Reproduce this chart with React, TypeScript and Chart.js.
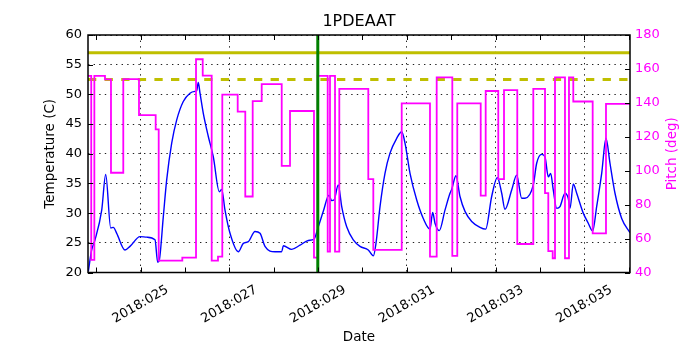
import React, { useEffect, useRef } from 'react';
import { Chart, registerables } from 'chart.js';

Chart.register(...registerables);

// ---- data ----
const tempDays = [
  23.824, 23.9, 23.975, 24.126, 24.216, 24.329, 24.387, 24.464, 24.651, 24.763,
  24.989, 25.14, 25.327, 25.388, 25.424, 25.514, 25.59, 25.703, 25.816, 25.964,
  26.115, 26.228, 26.266, 26.302, 26.341, 26.415, 26.528, 26.64, 26.776, 26.83,
  26.904, 27.017, 27.204, 27.316, 27.429, 27.58, 27.693, 27.805, 28.031, 28.182,
  28.218, 28.407, 28.594, 28.781, 28.909, 29.006, 29.119, 29.247, 29.308, 29.36,
  29.457, 29.534, 29.646, 29.795, 29.946, 30.133, 30.246, 30.306, 30.397, 30.509,
  30.622, 30.773, 30.886, 30.96, 31.073, 31.224, 31.372, 31.523, 31.584, 31.636,
  31.733, 31.861, 31.974, 32.012, 32.109, 32.199, 32.312, 32.463, 32.65, 32.778,
  32.913, 33.04, 33.139, 33.213, 33.364, 33.477, 33.589, 33.664, 33.851, 33.927,
  34.04, 34.114, 34.189, 34.243, 34.301, 34.378, 34.452, 34.565, 34.639, 34.678,
  34.752, 34.829, 34.977, 35.09, 35.189, 35.279, 35.392, 35.489, 35.579, 35.692,
  35.843, 36.03,
];
const tempValues = [
  20.2, 23.8, 25.5, 30.5, 36.5, 27.5, 27.6, 26.6, 23.8, 24.4,
  26.05, 25.95, 25.5, 21.7, 22.1, 29.4, 35.6, 41.8, 45.7, 48.8,
  50.2, 50.5, 50.6, 52.0, 50.2, 46.8, 42.9, 39.5, 33.6, 34.0,
  30.5, 26.6, 23.5, 24.9, 25.2, 26.9, 26.6, 24.4, 23.5, 23.5,
  24.5, 23.9, 24.6, 25.4, 25.6, 27.7, 30.3, 33.0, 32.1, 32.2,
  34.75, 31.1, 27.7, 25.5, 24.4, 23.8, 22.8, 24.9, 31.1, 36.7,
  40.1, 42.6, 43.7, 41.8, 36.7, 32.2, 29.1, 27.3, 30.1, 28.3,
  27.05, 30.5, 33.35, 34.0, 36.3, 32.8, 30.3, 28.6, 27.6, 27.3,
  32.8, 36.0, 33.35, 30.65, 33.9, 36.4, 32.5, 32.5, 34.75, 38.4,
  39.9, 39.5, 36.1, 36.7, 33.9, 30.8, 31.1, 33.35, 32.5, 30.8,
  34.9, 33.35, 30.0, 28.3, 27.0, 31.1, 36.7, 42.6, 38.4, 33.35,
  29.1, 26.7,
];

// pitch is a step series: each value holds until the next day entry
const pitchDays = [
  23.817, 23.89, 23.96, 24.2, 24.335, 24.612, 24.966, 25.342, 25.41, 25.942,
  26.251, 26.402, 26.604, 26.746, 26.843, 27.19, 27.361, 27.528, 27.731, 28.182,
  28.369, 28.909, 28.993, 29.218, 29.27, 29.383, 29.48, 30.133, 30.246, 30.886,
  31.523, 31.674, 32.026, 32.138, 32.666, 32.778, 33.062, 33.191, 33.49, 33.851,
  34.115, 34.189, 34.288, 34.34, 34.565, 34.655, 34.752, 35.189, 35.489, 36.03,
];
const pitchValues = [
  155.9, 47.4, 155.9, 153.8, 98.8, 154.0, 132.8, 124.4, 47.0, 48.8,
  165.7, 156.0, 47.0, 49.4, 144.8, 134.8, 84.8, 141.0, 151.0, 102.8,
  135.2, 48.8, 155.9, 52.3, 155.9, 52.3, 148.2, 95.1, 53.3, 139.7,
  49.4, 155.0, 49.8, 139.7, 85.3, 147.0, 95.1, 147.5, 56.8, 148.2,
  86.8, 52.6, 48.4, 155.0, 48.4, 155.0, 140.8, 63.1, 139.4, 139.4,
];

const xTickDays = [25, 27, 29, 31, 33, 35];
const xTickLabels = ['2018:025', '2018:027', '2018:029', '2018:031', '2018:033', '2018:035'];
const tempTicks = [20, 25, 30, 35, 40, 45, 50, 55, 60];
const pitchTicks = [40, 60, 80, 100, 120, 140, 160, 180];

const X_MIN = 23.817;
const X_MAX = 36.03;
const LIMIT_HIGH = 57;
const LIMIT_LOW = 52.5;
const MARKER_DAY = 28.995;

const FONT = '"DejaVu Sans", "Liberation Sans", sans-serif';
const TICK_LEN = 5;

const decorPlugin = {
  id: 'decor',
  afterDraw(chart: any) {
    const { ctx, chartArea: a, scales } = chart;
    const xs = scales.x;
    const ys = scales.y;
    const y2s = scales.y2;
    ctx.save();
    ctx.setLineDash([]);
    ctx.strokeStyle = '#000';
    ctx.lineWidth = 1;
    ctx.beginPath();
    for (let d = Math.ceil(X_MIN); d <= X_MAX; d++) {
      const px = Math.round(xs.getPixelForValue(d)) + 0.5;
      ctx.moveTo(px, a.bottom);
      ctx.lineTo(px, a.bottom - TICK_LEN);
      ctx.moveTo(px, a.top);
      ctx.lineTo(px, a.top + TICK_LEN);
    }
    for (const v of tempTicks) {
      const py = Math.round(ys.getPixelForValue(v)) + 0.5;
      ctx.moveTo(a.left, py);
      ctx.lineTo(a.left + TICK_LEN, py);
    }
    for (const v of pitchTicks) {
      const py = Math.round(y2s.getPixelForValue(v)) + 0.5;
      ctx.moveTo(a.right, py);
      ctx.lineTo(a.right - TICK_LEN, py);
    }
    ctx.stroke();

    ctx.lineWidth = 1.5;
    ctx.strokeRect(a.left, a.top, a.right - a.left, a.bottom - a.top);

    ctx.fillStyle = '#000';
    ctx.font = `13px ${FONT}`;
    ctx.textAlign = 'center';
    ctx.textBaseline = 'middle';
    xTickDays.forEach((d, i) => {
      ctx.save();
      ctx.translate(xs.getPixelForValue(d), a.bottom + 32);
      ctx.rotate(-Math.PI / 6);
      ctx.fillText(xTickLabels[i], 0, 0);
      ctx.restore();
    });

    ctx.save();
    ctx.fillStyle = '#ff00ff';
    ctx.font = `13.5px ${FONT}`;
    ctx.translate(a.right + 42, (a.top + a.bottom) / 2);
    ctx.rotate(-Math.PI / 2);
    ctx.fillText('Pitch (deg)', 0, 0);
    ctx.restore();

    ctx.restore();
  },
};

export default function App() {
  const canvasRef = useRef<HTMLCanvasElement | null>(null);

  useEffect(() => {
    const canvas = canvasRef.current;
    if (!canvas) return;

    const tempData = tempDays.map((d, i) => ({ x: d, y: tempValues[i] }));
    const pitchData = pitchDays.map((d, i) => ({ x: d, y: pitchValues[i] }));

    const chart = new Chart(canvas, {
      type: 'line',
      data: {
        datasets: [
          {
            label: 'marker',
            data: [{ x: MARKER_DAY, y: 20 }, { x: MARKER_DAY, y: 60 }],
            yAxisID: 'y',
            borderColor: 'rgb(0,128,0)',
            borderWidth: 3,
            pointRadius: 0,
          },
          {
            label: 'Pitch',
            data: pitchData,
            yAxisID: 'y2',
            borderColor: '#ff00ff',
            borderWidth: 1.8,
            pointRadius: 0,
            stepped: true,
          },
          {
            label: 'Temperature',
            data: tempData,
            yAxisID: 'y',
            borderColor: '#0000ff',
            borderWidth: 1.4,
            pointRadius: 0,
            cubicInterpolationMode: 'monotone',
          },
          {
            label: 'high limit',
            data: [{ x: X_MIN, y: LIMIT_HIGH }, { x: X_MAX, y: LIMIT_HIGH }],
            yAxisID: 'y',
            borderColor: 'rgb(191,191,0)',
            borderWidth: 3,
            pointRadius: 0,
          },
          {
            label: 'low limit',
            data: [{ x: X_MIN, y: LIMIT_LOW }, { x: X_MAX, y: LIMIT_LOW }],
            yAxisID: 'y',
            borderColor: 'rgb(191,191,0)',
            borderWidth: 3,
            borderDash: [8.3, 8.3],
            pointRadius: 0,
          },
        ],
      },
      options: {
        responsive: false,
        animation: false,
        devicePixelRatio: 1,
        layout: { padding: 0 },
        plugins: {
          legend: { display: false },
          tooltip: { enabled: false },
          title: {
            display: true,
            text: '1PDEAAT',
            fullSize: false,
            color: '#000',
            font: { family: FONT, size: 16, weight: 'normal' },
            padding: { top: 12, bottom: 3.8 },
          },
        },
        scales: {
          x: {
            type: 'linear',
            min: X_MIN,
            max: X_MAX,
            afterBuildTicks: (scale: any) => {
              const t = [];
              for (let d = Math.ceil(X_MIN); d <= X_MAX; d++) t.push({ value: d });
              scale.ticks = t;
            },
            afterFit: (scale: any) => {
              scale.height = 77.5;
            },
            ticks: { display: false },
            grid: {
              drawTicks: false,
              lineWidth: 1,
              color: (ctx: any) =>
                ctx.tick && xTickDays.includes(ctx.tick.value) ? '#222' : 'rgba(0,0,0,0)',
            },
            border: { display: false, dash: [1.4, 4.2] },
            title: {
              display: true,
              text: 'Date',
              color: '#000',
              font: { family: FONT, size: 13.5 },
              padding: { top: 0, bottom: 4 },
            },
          },
          y: {
            type: 'linear',
            position: 'left',
            min: 20,
            max: 60,
            ticks: {
              stepSize: 5,
              color: '#000',
              padding: 6,
              font: { family: FONT, size: 13 },
            },
            afterFit: (scale: any) => {
              scale.width = 88;
            },
            grid: { drawTicks: false, lineWidth: 1, color: '#222' },
            border: { display: false, dash: [1.4, 4.2] },
            title: {
              display: true,
              text: 'Temperature (C)',
              color: '#000',
              font: { family: FONT, size: 13.5 },
              padding: { top: 42, bottom: 0 },
            },
          },
          y2: {
            type: 'linear',
            position: 'right',
            min: 40,
            max: 180,
            ticks: {
              stepSize: 20,
              color: '#ff00ff',
              padding: 5,
              font: { family: FONT, size: 13 },
            },
            afterFit: (scale: any) => {
              scale.width = 70;
            },
            grid: { display: false, drawTicks: false },
            border: { display: false },
          },
        },
      },
      plugins: [decorPlugin],
    });

    return () => {
      chart.destroy();
    };
  }, []);

  return (
    <div style={{ position: 'absolute', left: 0, top: 0, width: 700, height: 350, background: '#fff' }}>
      <canvas ref={canvasRef} width={700} height={350} style={{ display: 'block' }} />
    </div>
  );
}
